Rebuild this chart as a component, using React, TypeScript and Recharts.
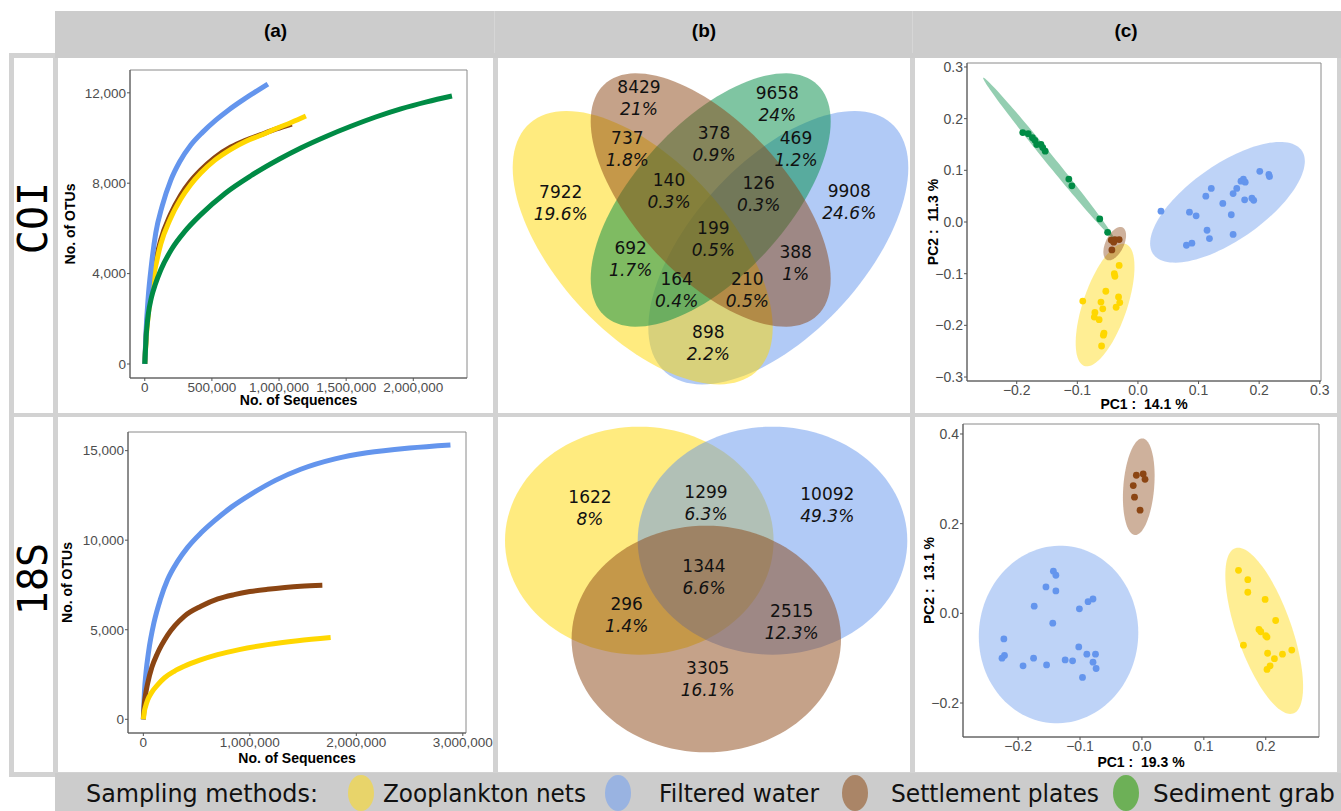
import React from 'react';
import { LineChart, ComposedChart, Line, Scatter, XAxis, YAxis, ReferenceArea, Label } from 'recharts';

type Pt = [number, number];

// ---------- (a) rarefaction curves: [number of sequences, number of OTUs] ----------
const coiFilteredWater: Pt[] = [
  [0, 0], [10000, 1500], [25000, 2900], [50000, 4400], [82000, 5800], [130000, 7000],
  [194000, 8140], [260000, 8950], [343000, 9690], [430000, 10250], [529000, 10790],
  [620000, 11220], [715000, 11620], [810000, 11990], [917000, 12390],
];
const coiSettlementPlates: Pt[] = [
  [0, 0], [10000, 1300], [30000, 2600], [60000, 3900], [119000, 5490], [190000, 6600],
  [268000, 7480], [340000, 8080], [417000, 8580], [520000, 9130], [641000, 9600],
  [750000, 9900], [864000, 10150], [980000, 10400], [1095000, 10620],
];
const coiZooplanktonNets: Pt[] = [
  [0, 0], [10000, 1100], [30000, 2400], [60000, 3650], [119000, 5300], [190000, 6420],
  [268000, 7300], [340000, 7920], [417000, 8450], [520000, 9010], [641000, 9500],
  [750000, 9850], [864000, 10120], [980000, 10420], [1095000, 10700], [1200000, 10975],
];
const coiSedimentGrab: Pt[] = [
  [0, 0], [10000, 1200], [25000, 2150], [50000, 2950], [80000, 3550], [119000, 4160],
  [200000, 5080], [300000, 5880], [417000, 6610], [600000, 7560], [790000, 8330],
  [1000000, 9060], [1162000, 9560], [1350000, 10070], [1535000, 10520], [1720000, 10930],
  [1907000, 11290], [2100000, 11600], [2288000, 11860],
];

const s18FilteredWater: Pt[] = [
  [0, 0], [10000, 1500], [25000, 2600], [50000, 3800], [100000, 5400], [160000, 6700],
  [228000, 7800], [320000, 8800], [416000, 9600], [540000, 10400], [666000, 11080],
  [830000, 11860], [1009000, 12560], [1240000, 13340], [1478000, 13960], [1800000, 14540],
  [2100000, 14880], [2500000, 15150], [2884000, 15320],
];
const s18SettlementPlates: Pt[] = [
  [0, 0], [10000, 900], [20000, 1350], [41000, 2015], [80000, 2900], [134000, 3700],
  [228000, 4700], [384000, 5750], [541000, 6310], [700000, 6720], [853000, 6960],
  [1000000, 7130], [1166000, 7260], [1330000, 7360], [1478000, 7430], [1681000, 7483],
];
const s18ZooplanktonNets: Pt[] = [
  [0, 0], [10000, 450], [20000, 700], [41000, 1082], [80000, 1520], [130000, 1900],
  [200000, 2320], [290000, 2680], [384000, 2960], [530000, 3300], [697000, 3610],
  [900000, 3890], [1166000, 4170], [1450000, 4390], [1759000, 4572],
];

const coiSeqTicks = [0, 500000, 1000000, 1500000, 2000000];
const coiOtuTicks = [0, 4000, 8000, 12000];
const s18SeqTicks = [0, 1000000, 2000000, 3000000];
const s18OtuTicks = [0, 5000, 10000, 15000];

// ---------- (b) Venn diagrams ----------
const coiVennCounts = [8429, 9658, 737, 378, 469, 7922, 140, 126, 9908, 199, 692, 388, 164, 210, 898];
const coiVennPercents = ['21%', '24%', '1.8%', '0.9%', '1.2%', '19.6%', '0.3%', '0.3%', '24.6%', '0.5%', '1.7%', '1%', '0.4%', '0.5%', '2.2%'];
const coiVennLabelX = [141, 279.3, 129.3, 216, 298, 62.7, 171, 260.7, 351.3, 215.3, 132.7, 297.7, 178.7, 249.3, 210.3];
const coiVennLabelY = [315.1, 309.5, 263.8, 269.1, 263.8, 210.1, 222.1, 219.2, 211.3, 174.1, 153.8, 150.1, 123.3, 123.3, 70.5];

const s18VennCounts = [1622, 1299, 10092, 1344, 296, 2515, 3305];
const s18VennPercents = ['8%', '6.3%', '49.3%', '6.6%', '1.4%', '12.3%', '16.1%'];
const s18VennLabelX = [92, 208, 329.3, 206, 128.7, 293.7, 209.7];
const s18VennLabelY = [264.5, 269.5, 267.3, 194.8, 157.5, 150.5, 93.1];

// ---------- (c) PCA scores: [PC1, PC2] ----------
const coiPcaSediment: Pt[] = [
  [-0.19, 0.173], [-0.181, 0.171], [-0.174, 0.163], [-0.17, 0.158], [-0.167, 0.15], [-0.16, 0.15],
  [-0.157, 0.144], [-0.153, 0.137], [-0.114, 0.083], [-0.109, 0.07], [-0.063, 0.006], [-0.05, -0.02],
];
const coiPcaPlates: Pt[] = [[-0.044, -0.035], [-0.038, -0.034], [-0.031, -0.034], [-0.04, -0.039], [-0.043, -0.054]];
const coiPcaZooplankton: Pt[] = [
  [-0.031, -0.084], [-0.039, -0.1], [-0.038, -0.105], [-0.053, -0.134], [-0.091, -0.153], [-0.061, -0.155],
  [-0.058, -0.168], [-0.032, -0.145], [-0.03, -0.156], [-0.036, -0.165], [-0.071, -0.175], [-0.072, -0.184],
  [-0.064, -0.189], [-0.056, -0.215], [-0.057, -0.219], [-0.06, -0.24],
];
const coiPcaWater: Pt[] = [
  [0.038, 0.021], [0.085, 0.019], [0.096, 0.012], [0.112, 0.05], [0.121, 0.065], [0.14, 0.036],
  [0.154, 0.014], [0.157, 0.055], [0.163, 0.065], [0.17, 0.079], [0.177, 0.077], [0.174, 0.083],
  [0.176, 0.043], [0.188, 0.046], [0.191, 0.042], [0.201, 0.098], [0.216, 0.092], [0.217, 0.088],
  [0.114, -0.016], [0.118, -0.032], [0.157, -0.024], [0.08, -0.045], [0.089, -0.041],
];

const s18PcaPlates: Pt[] = [[-0.009, 0.308], [0.002, 0.311], [0.005, 0.299], [-0.014, 0.285], [-0.012, 0.259], [-0.003, 0.23]];
const s18PcaZooplankton: Pt[] = [
  [0.156, 0.096], [0.171, 0.075], [0.171, 0.047], [0.199, 0.031], [0.216, -0.016], [0.189, -0.036],
  [0.192, -0.041], [0.2, -0.05], [0.202, -0.053], [0.164, -0.071], [0.203, -0.089], [0.214, -0.101],
  [0.227, -0.091], [0.242, -0.082], [0.207, -0.117], [0.202, -0.125],
];
const s18PcaWater: Pt[] = [
  [-0.143, 0.094], [-0.139, 0.085], [-0.155, 0.059], [-0.139, 0.05], [-0.079, 0.032], [-0.087, 0.026],
  [-0.174, 0.016], [-0.101, 0.01], [-0.144, -0.022], [-0.223, -0.057], [-0.222, -0.094], [-0.226, -0.1],
  [-0.175, -0.1], [-0.192, -0.117], [-0.154, -0.115], [-0.124, -0.104], [-0.112, -0.106], [-0.102, -0.075],
  [-0.089, -0.091], [-0.075, -0.091], [-0.079, -0.109], [-0.074, -0.123], [-0.096, -0.143],
];

const coiPcTicksX = [-0.2, -0.1, 0, 0.1, 0.2, 0.3];
const coiPcTicksY = [-0.3, -0.2, -0.1, 0, 0.1, 0.2, 0.3];
const s18PcTicksX = [-0.2, -0.1, 0, 0.1, 0.2];
const s18PcTicksY = [-0.2, 0, 0.2, 0.4];

const methods = ['Zooplankton nets', 'Filtered water', 'Settlement plates', 'Sediment grab'];
const methodColors = ['#FFD700', '#6495ED', '#8B4513', '#008B45'];
const legendSwatches = ['#E8D46A', '#99B3E1', '#AA8567', '#6DB057'];
const [ZOO, WATER, PLATES, SEDIMENT] = methodColors;

// ---------- helpers ----------
type Ellipse = { cx: number; cy: number; hw: number; hh: number; rho: number; color: string };

const toXY = (pts: Pt[]) => pts.map(([x, y]) => ({ x, y }));
const fmtComma = (v: number) => v.toLocaleString('en-US');
const fmtPc = (v: number) => (Math.abs(v) < 1e-9 ? '0.0' : v.toFixed(1).replace('-', '\u2212'));

const SANS = 'Liberation Sans, Arial, Helvetica, sans-serif';
const VERDANA = 'DejaVu Sans, Verdana, sans-serif';
const TICK = { fill: '#4d4d4d', fontSize: 13.5, fontFamily: SANS };
const TICK_C = { fill: '#4d4d4d', fontSize: 14, fontFamily: SANS };

// ellipse inscribed in the pixel box of its data extent; rho is the correlation in data space
function ellipseShape(rho: number, fill: string, opacity: number) {
  return (props: any) => {
    const { x, y, width, height } = props;
    const a = width / 2;
    const b = height / 2;
    const cx = x + a;
    const cy = y + b;
    const r = -rho; // screen y points down
    const s = Math.sqrt(Math.max(0, 1 - r * r));
    const steps = 120;
    let d = '';
    for (let i = 0; i < steps; i++) {
      const t = (2 * Math.PI * i) / steps;
      const px = cx + a * Math.cos(t);
      const py = cy + b * (r * Math.cos(t) + s * Math.sin(t));
      d += (i ? 'L' : 'M') + px.toFixed(2) + ',' + py.toFixed(2);
    }
    return <path d={d + 'Z'} fill={fill} fillOpacity={opacity} stroke="none" />;
  };
}

const renderEllipse = (e: Ellipse, i: number, opacity: number) => (
  <ReferenceArea
    key={'e' + i}
    x1={e.cx - e.hw}
    x2={e.cx + e.hw}
    y1={e.cy - e.hh}
    y2={e.cy + e.hh}
    ifOverflow="visible"
    shape={ellipseShape(e.rho, e.color, opacity)}
  />
);

const xTitle = (text: string, dy: number) => (p: any) => {
  const vb = p.viewBox || {};
  return (
    <text x={vb.x + vb.width / 2} y={vb.y + dy} textAnchor="middle" dominantBaseline="central"
      fontFamily={SANS} fontWeight="bold" fontSize={14} fill="#000">{text}</text>
  );
};
const yTitle = (text: string, dx: number) => (p: any) => {
  const vb = p.viewBox || {};
  const x = vb.x + dx;
  const y = vb.y + vb.height / 2;
  return (
    <text x={x} y={y} transform={`rotate(-90 ${x} ${y})`} textAnchor="middle" dominantBaseline="central"
      fontFamily={SANS} fontWeight="bold" fontSize={14} fill="#000">{text}</text>
  );
};

// ---------- panel (a) ----------
type Curve = { name: string; color: string; pts: Pt[] };
function Rarefaction(props: {
  curves: Curve[]; xDomain: [number, number]; yDomain: [number, number];
  xTicks: number[]; yTicks: number[]; margin: any; yAxisWidth: number; xAxisHeight: number;
  yTitleDx: number; xTitleDy: number;
}) {
  const { curves, xDomain, yDomain, xTicks, yTicks, margin, yAxisWidth, xAxisHeight, yTitleDx, xTitleDy } = props;
  return (
    <LineChart width={435} height={355} margin={margin}>
      <XAxis type="number" dataKey="x" domain={xDomain} ticks={xTicks} allowDataOverflow interval={0}
        height={xAxisHeight} tickFormatter={fmtComma} tick={TICK} tickSize={3} tickMargin={1} stroke="#555">
        <Label content={xTitle('No. of Sequences', xTitleDy)} />
      </XAxis>
      <YAxis type="number" dataKey="y" domain={yDomain} ticks={yTicks} allowDataOverflow interval={0}
        width={yAxisWidth} tickFormatter={fmtComma} tick={TICK} tickSize={3} tickMargin={1} stroke="#555">
        <Label content={yTitle('No. of OTUs', yTitleDx)} />
      </YAxis>
      <ReferenceArea x1={xDomain[0]} x2={xDomain[1]} y1={yDomain[0]} y2={yDomain[1]}
        fill="none" stroke="#8a8a8a" strokeWidth={1} ifOverflow="visible" />
      {curves.map((c) => (
        <Line key={c.name} data={toXY(c.pts)} dataKey="y" type="monotone" stroke={c.color}
          strokeWidth={5} dot={false} activeDot={false} isAnimationActive={false} />
      ))}
    </LineChart>
  );
}

// ---------- panel (b) ----------
const VENN_W = 412;
const VENN_H = 355;
function vennLabel(props: any) {
  const { cx, cy, payload } = props;
  return (
    <g>
      <text x={cx} y={cy - 11} textAnchor="middle" dominantBaseline="central" fontFamily={VERDANA}
        fontSize={17} fill="#111">{payload.count}</text>
      <text x={cx} y={cy + 11} textAnchor="middle" dominantBaseline="central" fontFamily={VERDANA}
        fontSize={17} fontStyle="italic" fill="#111">{payload.pct}</text>
    </g>
  );
}
function Venn(props: { sets: Ellipse[]; counts: number[]; pcts: string[]; lx: number[]; ly: number[] }) {
  const labels = props.counts.map((c, i) => ({ x: props.lx[i], y: props.ly[i], count: c, pct: props.pcts[i] }));
  return (
    <ComposedChart width={VENN_W} height={VENN_H} margin={{ top: 0, right: 0, bottom: 0, left: 0 }}>
      <XAxis type="number" dataKey="x" domain={[0, VENN_W]} hide allowDataOverflow />
      <YAxis type="number" dataKey="y" domain={[0, VENN_H]} hide allowDataOverflow />
      {props.sets.map((e, i) => renderEllipse(e, i, 0.5))}
      <Scatter data={labels} shape={vennLabel} isAnimationActive={false} />
    </ComposedChart>
  );
}

// ---------- panel (c) ----------
type Group = { name: string; color: string; pts: Pt[] };
function Pca(props: {
  groups: Group[]; ellipses: Ellipse[]; xDomain: [number, number]; yDomain: [number, number];
  xTicks: number[]; yTicks: number[]; margin: any; yAxisWidth: number; xAxisHeight: number;
  xTitleText: string; yTitleText: string; yTitleDx: number; xTitleDy: number;
}) {
  const p = props;
  const dot = (color: string) => (sp: any) => <circle cx={sp.cx} cy={sp.cy} r={3.4} fill={color} />;
  return (
    <ComposedChart width={422} height={355} margin={p.margin}>
      <XAxis type="number" dataKey="x" domain={p.xDomain} ticks={p.xTicks} allowDataOverflow interval={0}
        height={p.xAxisHeight} tickFormatter={fmtPc} tick={TICK_C} tickSize={3} tickMargin={1} stroke="#555">
        <Label content={xTitle(p.xTitleText, p.xTitleDy)} />
      </XAxis>
      <YAxis type="number" dataKey="y" domain={p.yDomain} ticks={p.yTicks} allowDataOverflow interval={0}
        width={p.yAxisWidth} tickFormatter={fmtPc} tick={TICK_C} tickSize={3} tickMargin={1} stroke="#555">
        <Label content={yTitle(p.yTitleText, p.yTitleDx)} />
      </YAxis>
      <ReferenceArea x1={p.xDomain[0]} x2={p.xDomain[1]} y1={p.yDomain[0]} y2={p.yDomain[1]}
        fill="none" stroke="#8a8a8a" strokeWidth={1} ifOverflow="visible" />
      {p.ellipses.map((e, i) => renderEllipse(e, i, 0.42))}
      {p.groups.map((g) => (
        <Scatter key={g.name} data={toXY(g.pts)} shape={dot(g.color)} isAnimationActive={false} />
      ))}
    </ComposedChart>
  );
}

// ---------- layout ----------
const HEADER = '#cccccc';
const FRAME = '#d2d2d2';
const colX = [58, 498, 915];
const colW = [435, 412, 422];
const rowY = [58, 417];
const rowH = 355;

export default function App() {
  const coiVennSets: Ellipse[] = [
    { cx: 280.3, cy: 165.3, hw: 130, hh: 136.7, rho: 0.585, color: WATER },
    { cx: 144.7, cy: 165.3, hw: 130, hh: 136.7, rho: -0.585, color: ZOO },
    { cx: 212.7, cy: 213, hw: 120, hh: 126.7, rho: 0.62, color: SEDIMENT },
    { cx: 212.7, cy: 213, hw: 120, hh: 126.7, rho: -0.62, color: PLATES },
  ];
  const s18VennSets: Ellipse[] = [
    { cx: 141.3, cy: 231.3, hw: 134.3, hh: 114, rho: 0, color: ZOO },
    { cx: 274.5, cy: 231.3, hw: 134.8, hh: 114, rho: 0, color: WATER },
    { cx: 208.3, cy: 133, hw: 134.7, hh: 113.3, rho: 0, color: PLATES },
  ];
  const coiEllipses: Ellipse[] = [
    { cx: -0.1474, cy: 0.1235, hw: 0.108, hh: 0.1558, rho: -0.996, color: SEDIMENT },
    { cx: -0.0542, cy: -0.1606, hw: 0.0485, hh: 0.1187, rho: 0.62, color: ZOO },
    { cx: 0.1477, cy: 0.0381, hw: 0.1276, hh: 0.1168, rho: 0.68, color: WATER },
    { cx: -0.0383, cy: -0.0419, hw: 0.0187, hh: 0.0323, rho: 0.5, color: PLATES },
  ];
  const s18Ellipses: Ellipse[] = [
    { cx: 0.1975, cy: -0.039, hw: 0.0628, hh: 0.1854, rho: -0.67, color: ZOO },
    { cx: -0.1347, cy: -0.0472, hw: 0.1288, hh: 0.198, rho: 0.02, color: WATER },
    { cx: -0.0051, cy: 0.2824, hw: 0.0256, hh: 0.1078, rho: 0.22, color: PLATES },
  ];

  const cell = (c: number, r: number, child: React.ReactNode) => (
    <div style={{ position: 'absolute', left: colX[c], top: rowY[r], width: colW[c], height: rowH, background: '#fff' }}>
      {child}
    </div>
  );

  return (
    <div style={{ position: 'absolute', left: 0, top: 0, width: 1341, height: 811, background: '#fff', overflow: 'hidden' }}>
      <svg width={1341} height={811} style={{ position: 'absolute', left: 0, top: 0 }}>
        <rect x={9} y={53} width={1332} height={724} fill={FRAME} />
        <rect x={55} y={11} width={1286} height={47} fill={HEADER} />
        <rect x={55} y={773} width={1286} height={38} fill={HEADER} />
        <rect x={494} y={11} width={1} height={42} fill="#d6d6d6" />
        <rect x={912} y={11} width={1} height={42} fill="#d6d6d6" />
        <rect x={14} y={58} width={39} height={355} fill="#fff" />
        <rect x={14} y={417} width={39} height={355} fill="#fff" />
        {['(a)', '(b)', '(c)'].map((t, i) => (
          <text key={t} x={colX[i] + colW[i] / 2} y={30} textAnchor="middle" dominantBaseline="central"
            fontFamily={SANS} fontWeight="bold" fontSize={19} fill="#000">{t}</text>
        ))}
        <text x={33} y={218} transform="rotate(-90 33 218)" textAnchor="middle" dominantBaseline="central"
          fontFamily="DejaVu Sans Mono, monospace" fontSize={40} fill="#000">COI</text>
        <text x={33} y={579} transform="rotate(-90 33 579)" textAnchor="middle" dominantBaseline="central"
          fontFamily="DejaVu Sans Mono, monospace" fontSize={40} fill="#000">18S</text>
        {/* legend: condensed sans text, oval swatches */}
        <text x={86} y={802} fontFamily={VERDANA} fontSize={25} fill="#111" textLength={232} lengthAdjust="spacingAndGlyphs">Sampling methods:</text>
        {[
          { cx: 361, tx: 383, tw: 203 },
          { cx: 618, tx: 659, tw: 160 },
          { cx: 855, tx: 891, tw: 208 },
          { cx: 1126, tx: 1153, tw: 182 },
        ].map((l, i) => (
          <g key={methods[i]}>
            <ellipse cx={l.cx} cy={793} rx={13} ry={18} fill={legendSwatches[i]} />
            <text x={l.tx} y={802} fontFamily={VERDANA} fontSize={25} fill="#111" textLength={l.tw}
              lengthAdjust="spacingAndGlyphs">{methods[i]}</text>
          </g>
        ))}
      </svg>

      {cell(0, 0,
        <Rarefaction
          curves={[
            { name: methods[2], color: PLATES, pts: coiSettlementPlates },
            { name: methods[0], color: ZOO, pts: coiZooplanktonNets },
            { name: methods[1], color: WATER, pts: coiFilteredWater },
            { name: methods[3], color: SEDIMENT, pts: coiSedimentGrab },
          ]}
          xDomain={[-110000, 2400000]} yDomain={[-620, 13010]} xTicks={coiSeqTicks} yTicks={coiOtuTicks}
          margin={{ top: 12, right: 26, bottom: 0, left: 0 }} yAxisWidth={72} xAxisHeight={35}
          yTitleDx={12} xTitleDy={22}
        />)}
      {cell(0, 1,
        <Rarefaction
          curves={[
            { name: methods[1], color: WATER, pts: s18FilteredWater },
            { name: methods[2], color: PLATES, pts: s18SettlementPlates },
            { name: methods[0], color: ZOO, pts: s18ZooplanktonNets },
          ]}
          xDomain={[-144000, 3030000]} yDomain={[-765, 16040]} xTicks={s18SeqTicks} yTicks={s18OtuTicks}
          margin={{ top: 15, right: 27, bottom: 0, left: 0 }} yAxisWidth={70} xAxisHeight={39}
          yTitleDx={9} xTitleDy={25}
        />)}
      {cell(1, 0,
        <Venn sets={coiVennSets} counts={coiVennCounts} pcts={coiVennPercents} lx={coiVennLabelX} ly={coiVennLabelY} />)}
      {cell(1, 1,
        <Venn sets={s18VennSets} counts={s18VennCounts} pcts={s18VennPercents} lx={s18VennLabelX} ly={s18VennLabelY} />)}
      {cell(2, 0,
        <Pca
          groups={[
            { name: methods[3], color: SEDIMENT, pts: coiPcaSediment },
            { name: methods[0], color: ZOO, pts: coiPcaZooplankton },
            { name: methods[1], color: WATER, pts: coiPcaWater },
            { name: methods[2], color: PLATES, pts: coiPcaPlates },
          ]}
          ellipses={coiEllipses}
          xDomain={[-0.282, 0.302]} yDomain={[-0.3077, 0.3077]} xTicks={coiPcTicksX} yTicks={coiPcTicksY}
          margin={{ top: 5, right: 16, bottom: 0, left: 0 }} yAxisWidth={52} xAxisHeight={32}
          xTitleText={'PC1 :\u00a0 14.1 %'} yTitleText={'PC2 :\u00a0 11.3 %'} yTitleDx={18} xTitleDy={23}
        />)}
      {cell(2, 1,
        <Pca
          groups={[
            { name: methods[1], color: WATER, pts: s18PcaWater },
            { name: methods[0], color: ZOO, pts: s18PcaZooplankton },
            { name: methods[2], color: PLATES, pts: s18PcaPlates },
          ]}
          ellipses={s18Ellipses}
          xDomain={[-0.289, 0.286]} yDomain={[-0.2758, 0.4223]} xTicks={s18PcTicksX} yTicks={s18PcTicksY}
          margin={{ top: 7, right: 18, bottom: 0, left: 0 }} yAxisWidth={48} xAxisHeight={35}
          xTitleText={'PC1 :\u00a0 19.3 %'} yTitleText={'PC2 :\u00a0 13.1 %'} yTitleDx={14} xTitleDy={25}
        />)}
    </div>
  );
}
